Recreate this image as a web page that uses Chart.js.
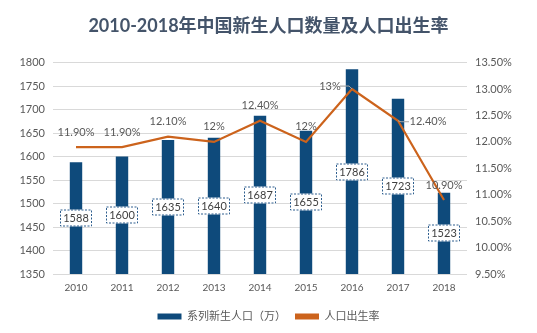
<!DOCTYPE html>
<html>
<head>
<meta charset="utf-8">
<script src="https://cdn.jsdelivr.net/npm/chart.js@4"></script>
<style>
  html, body { margin: 0; padding: 0; background: #fff; }
  #wrap { width: 537px; height: 333px; }
</style>
</head>
<body>
<div id="wrap"><canvas id="birthChart"></canvas></div>
<script>
// Years and the two series
const years = ['2010', '2011', '2012', '2013', '2014', '2015', '2016', '2017', '2018'];
const births = [1588, 1600, 1635, 1640, 1687, 1655, 1786, 1723, 1523];
const birthRate = [11.90, 11.90, 12.10, 12.00, 12.40, 12.00, 13.00, 12.40, 10.90];
const rateLabels = ['11.90%', '11.90%', '12.10%', '12%', '12.40%', '12%', '13%', '12.40%', '10.90%'];

const FONT = 'Lato, "Noto Sans CJK SC", sans-serif';
const BAR_COLOR = '#0E4A7B';
const LINE_COLOR = '#CC631C';

// Where each rate label sits relative to its point (dx, dy, with leader line?)
const rateLabelPos = {
  6: { dx: -22, dy: -3, leader: true },
  7: { dx: 30, dy: 1, leader: true }
};

// Draws the boxed bar values and the percentage labels over the line
const valueLabels = {
  id: 'valueLabels',
  afterDatasetsDraw(chart) {
    const ctx = chart.ctx;
    const yScale = chart.scales.y;
    ctx.save();
    ctx.font = '11px ' + FONT;
    ctx.textAlign = 'center';
    ctx.textBaseline = 'middle';

    // bar values: dashed box in the middle of each bar
    chart.getDatasetMeta(0).data.forEach((bar, i) => {
      const top = yScale.getPixelForValue(births[i]);
      const cy = Math.round((top + yScale.bottom) / 2);
      const cx = Math.round(bar.x);
      const w = 32, h = 17;
      ctx.fillStyle = '#fff';
      ctx.fillRect(cx - w / 2, cy - h / 2, w, h);
      ctx.setLineDash([2, 1.5]);
      ctx.strokeStyle = '#2F5F8F';
      ctx.lineWidth = 1;
      ctx.strokeRect(cx - w / 2 + 0.5, cy - h / 2 + 0.5, w - 1, h - 1);
      ctx.setLineDash([]);
      ctx.fillStyle = '#404040';
      ctx.fillText(String(births[i]), cx, cy + 0.5);
    });

    // rate labels
    chart.getDatasetMeta(1).data.forEach((pt, i) => {
      const pos = rateLabelPos[i] || { dx: 0, dy: -15, leader: false };
      const lx = pt.x + pos.dx, ly = pt.y + pos.dy;
      if (pos.leader) {
        ctx.strokeStyle = '#A6A6A6';
        ctx.lineWidth = 1;
        ctx.beginPath();
        if (pos.dx < 0) {
          ctx.moveTo(lx + 10, ly);
          ctx.lineTo(pt.x - 3, ly);
        } else {
          ctx.moveTo(lx - 19, ly);
          ctx.lineTo(pt.x + 3, ly);
        }
        ctx.lineTo(pt.x, pt.y);
        ctx.stroke();
      }
      ctx.fillStyle = '#595959';
      ctx.fillText(rateLabels[i], lx, ly);
    });
    ctx.restore();
  }
};

new Chart(document.getElementById('birthChart'), {
  data: {
    labels: years,
    datasets: [
      {
        type: 'bar',
        label: '系列新生人口（万）',
        data: births,
        backgroundColor: BAR_COLOR,
        yAxisID: 'y',
        categoryPercentage: 1,
        barPercentage: 0.27,
        order: 2
      },
      {
        type: 'line',
        label: '人口出生率',
        data: birthRate,
        borderColor: LINE_COLOR,
        backgroundColor: LINE_COLOR,
        borderWidth: 2.2,
        pointRadius: 0,
        tension: 0,
        yAxisID: 'y1',
        order: 1
      }
    ]
  },
  options: {
    responsive: true,
    maintainAspectRatio: false,
    animation: false,
    layout: { padding: { top: 6, bottom: 1, left: 0, right: 0 } },
    plugins: {
      title: {
        display: true,
        text: '2010-2018年中国新生人口数量及人口出生率',
        color: '#44546A',
        font: { family: FONT, size: 18, weight: 'bold' },
        padding: { top: 9, bottom: 26 }
      },
      legend: {
        position: 'bottom',
        labels: {
          color: '#595959',
          font: { family: FONT, size: 11 },
          boxWidth: 24,
          boxHeight: 6,
          padding: 9,
          generateLabels(chart) {
            return chart.data.datasets.map((ds, i) => ({
              text: ds.label,
              fillStyle: ds.type === 'bar' ? BAR_COLOR : LINE_COLOR,
              strokeStyle: ds.type === 'bar' ? BAR_COLOR : LINE_COLOR,
              lineWidth: 0,
              datasetIndex: i,
              fontColor: '#595959'
            }));
          }
        }
      },
      tooltip: { enabled: false }
    },
    scales: {
      x: {
        grid: { display: false, drawTicks: false },
        border: { display: false },
        ticks: { color: '#595959', font: { family: FONT, size: 10 }, padding: 8 }
      },
      y: {
        position: 'left',
        min: 1350,
        max: 1800,
        ticks: {
          stepSize: 50,
          color: '#595959',
          font: { family: FONT, size: 11 },
          padding: 8,
          callback: v => String(v)
        },
        grid: { color: '#D9D9D9', drawTicks: false },
        border: { display: false },
        afterFit(scale) { scale.width = 53; }
      },
      y1: {
        position: 'right',
        min: 9.5,
        max: 13.5,
        ticks: {
          stepSize: 0.5,
          color: '#595959',
          font: { family: FONT, size: 11 },
          padding: 0,
          callback: v => v.toFixed(2) + '%'
        },
        grid: { display: false },
        border: { display: false },
        afterFit(scale) { scale.width = 70; }
      }
    }
  },
  plugins: [valueLabels]
});
</script>
</body>
</html>
